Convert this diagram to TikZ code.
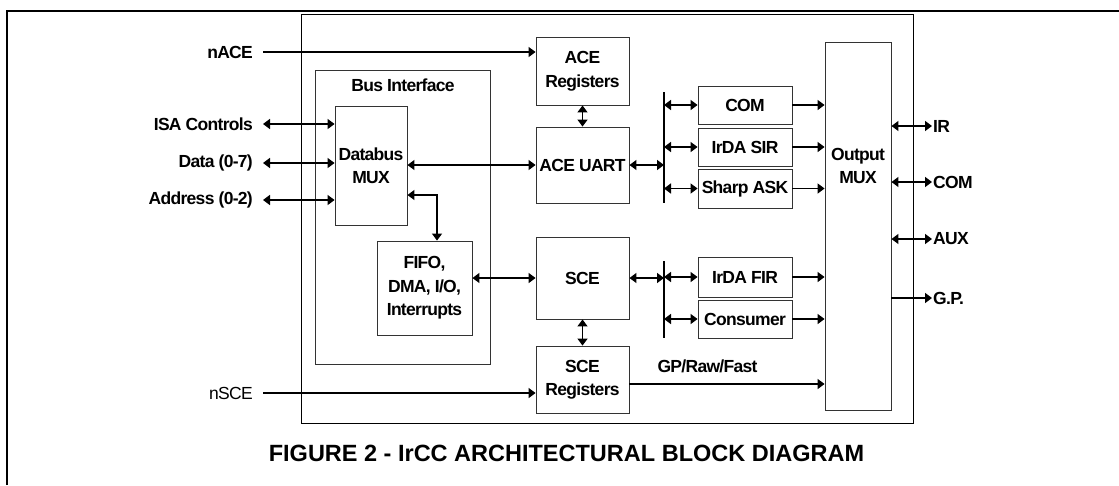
\documentclass[tikz,border=0pt]{standalone}
\usepackage{fontspec}
\setmainfont{Liberation Sans}
\newfontfamily\blockfont[LetterSpace=-4]{Liberation Sans}
\usetikzlibrary{arrows.meta}

\begin{document}
\begin{tikzpicture}[x=1pt,y=-1pt,
  box/.style={rectangle,draw=black!80,line width=0.9pt,inner sep=0pt,align=center,
    font=\blockfont\fontsize{17.5}{23.5}\selectfont\bfseries},
  lbl/.style={inner sep=0pt,align=center,font=\blockfont\fontsize{17.5}{23.5}\selectfont\bfseries},
  sig/.style={anchor=east,inner xsep=10pt,inner ysep=0pt,font=\blockfont\fontsize{17.5}{20}\selectfont\bfseries},
  sigr/.style={anchor=west,inner xsep=1pt,inner ysep=0pt,font=\blockfont\fontsize{17.5}{20}\selectfont\bfseries},
  wire/.style={line width=1.5pt},
  >={Triangle[length=7pt,width=10pt]}]
\useasboundingbox (0,0) rectangle (1119,485);
% page frame and chip outline
\draw[line width=2.3pt] (7,485) -- (7,11) -- (1119,11);
\draw[line width=0.8pt] (301,14) rectangle (913,423);
% bus interface
\node[box,minimum width=175pt,minimum height=294pt] (busIf) at (402.5,217) {};
\node[lbl] (busIfTxt) at (403,85) {Bus Interface};
\node[box,minimum width=72pt,minimum height=119pt] (dbMux) at (371,165.5) {Databus\\MUX};
\node[box,minimum width=95pt,minimum height=94pt] (fifo) at (424.5,288) {FIFO,\\DMA, I/O,\\Interrupts};
% ACE and SCE blocks
\node[box,minimum width=93pt,minimum height=68pt] (aceReg) at (582.5,71) {ACE\\Registers};
\node[box,minimum width=93pt,minimum height=76pt] (aceUart) at (582.5,165) {ACE UART};
\node[box,minimum width=93pt,minimum height=82pt] (sce) at (582.5,278) {SCE};
\node[box,minimum width=93pt,minimum height=67pt] (sceReg) at (582.5,379.5) {SCE\\Registers};
% encoders
\node[box,minimum width=94pt,minimum height=38pt] (com) at (745,105) {COM};
\node[box,minimum width=94pt,minimum height=38pt] (irSir) at (745,147) {IrDA SIR};
\node[box,minimum width=94pt,minimum height=39pt] (sharp) at (745,188.5) {Sharp ASK};
\node[box,minimum width=94pt,minimum height=40pt] (irFir) at (745,277) {IrDA FIR};
\node[box,minimum width=94pt,minimum height=38pt] (consumer) at (745,319) {Consumer};
% output mux
\node[box,minimum width=66pt,minimum height=368pt] (outMux) at (858,226) {};
\node[lbl] (outMuxTxt) at (858,166) {Output\\MUX};
% pins
\node[sig] (nace) at (263,52) {nACE};
\node[sig] (isa) at (263,124) {ISA Controls};
\node[sig] (data) at (263,163) {Data (0-7)};
\node[sig] (addr) at (263,200) {Address (0-2)};
\node[sig,font=\blockfont\fontsize{17.5}{20}\selectfont] (nsce) at (263,393) {nSCE};
\node[sigr] (ir) at (932,126) {IR};
\node[sigr] (comOut) at (932,182) {COM};
\node[sigr] (aux) at (932,239) {AUX};
\node[sigr] (gp) at (932,298) {G.P.};
\node[lbl] (gpRaw) at (707.5,366) {GP/Raw/Fast};
\coordinate (busA) at (664,92);
\coordinate (busAend) at (664,203);
\coordinate (busB) at (664,261);
\coordinate (busBend) at (664,338);
% connectors
\draw[wire,->] (nace.east) -- (nace.east -| aceReg.west);
\draw[wire,<->] (isa.east) -- (isa.east -| dbMux.west);
\draw[wire,<->] (data.east) -- (data.east -| dbMux.west);
\draw[wire,<->] (addr.east) -- (addr.east -| dbMux.west);
\draw[wire,->] (nsce.east) -- (nsce.east -| sceReg.west);
\draw[wire,<->] (dbMux.east |- aceUart.west) -- (aceUart.west);
\draw[wire,<->] ([yshift=-29.5pt]dbMux.east) -| ([xshift=12.5pt]fifo.north);
\draw[wire,<->] (sce.west -| fifo.east) -- (sce.west);
\draw[wire,<->] (aceReg.south) -- (aceUart.north);
\draw[wire,<->] (sce.south) -- (sceReg.north);
\draw[wire] (busA) -- (busAend);
\draw[wire] (busB) -- (busBend);
\draw[wire,<->] (aceUart.east) -- (aceUart.east -| busA);
\draw[wire,<->] (sce.east) -- (sce.east -| busB);
\foreach \enc/\bus in {com/busA,irSir/busA,sharp/busA,irFir/busB,consumer/busB}{
  \draw[wire,<->] (\enc.west -| \bus) -- (\enc.west);
  \draw[wire,->] (\enc.east) -- (\enc.east -| outMux.west);
}
\draw[wire,->] ([yshift=-4.5pt]sceReg.east) -- ([yshift=-4.5pt]sceReg.east -| outMux.west);
\draw[wire,<->] (ir.west -| outMux.east) -- (ir.west);
\draw[wire,<->] (comOut.west -| outMux.east) -- (comOut.west);
\draw[wire,<->] (aux.west -| outMux.east) -- (aux.west);
\draw[wire,->] (gp.west -| outMux.east) -- (gp.west);
% caption
\node[font=\fontsize{23.5}{28}\selectfont\bfseries,inner sep=0pt] (caption) at (566.5,453) {FIGURE 2 - IrCC ARCHITECTURAL BLOCK DIAGRAM};
\end{tikzpicture}
\end{document}
